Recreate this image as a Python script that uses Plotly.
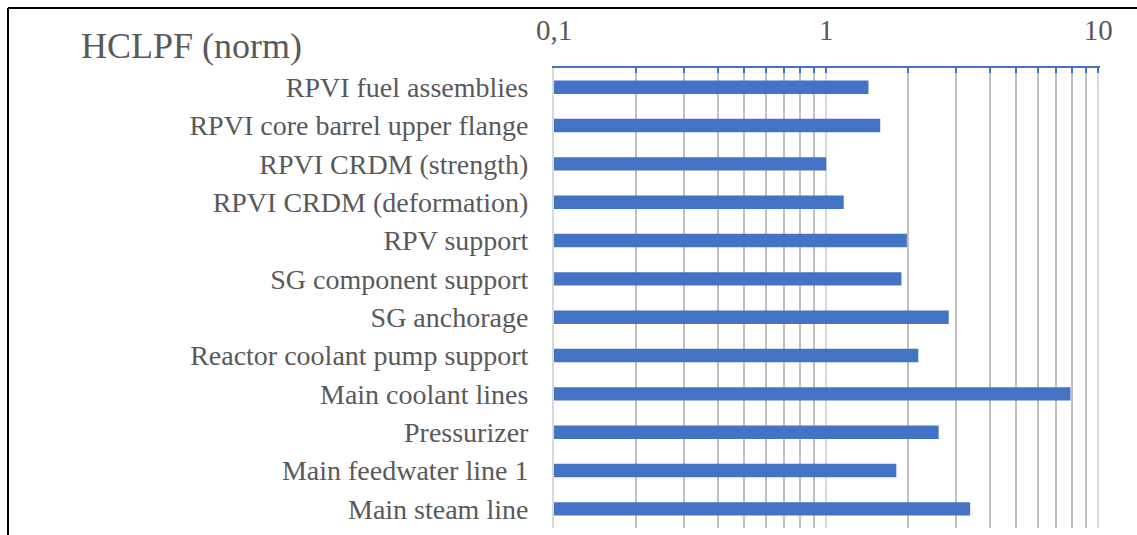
import plotly.graph_objects as go

# ---- data ----
categories = [
    "RPVI fuel assemblies",
    "RPVI core barrel upper flange",
    "RPVI CRDM (strength)",
    "RPVI CRDM (deformation)",
    "RPV support",
    "SG component support",
    "SG anchorage",
    "Reactor coolant pump support",
    "Main coolant lines",
    "Pressurizer",
    "Main feedwater line 1",
    "Main steam line",
]
hclpf_values = [1.43, 1.58, 1.00, 1.16, 1.98, 1.89, 2.82, 2.18, 7.9, 2.59, 1.81, 3.38]

major_ticks = [0.1, 1, 10]
major_labels = ["0,1", "1", "10"]
minor_ticks = [0.2, 0.3, 0.4, 0.5, 0.6, 0.7, 0.8, 0.9, 2, 3, 4, 5, 6, 7, 8, 9]
title_text = "HCLPF (norm)"

# ---- layout constants ----
W, H = 1137, 535
ML, MR, MT, MB = 554, 37, 68, 7
BLUE = "#4472C4"
TXT = "#595959"
FONT = "Liberation Serif, Times New Roman, serif"

pw = W - ML - MR
ph = H - MT - MB
def px_x(p):
    return (p - ML) / pw
def px_y(p):
    return (H - MB - p) / ph

fig = go.Figure(
    go.Bar(
        x=hclpf_values,
        y=categories,
        orientation="h",
        marker=dict(color=BLUE, line=dict(width=0)),
        hoverinfo="x+y",
    )
)

fig.update_layout(
    width=W,
    height=H,
    margin=dict(l=ML, r=MR, t=MT, b=MB),
    paper_bgcolor="white",
    plot_bgcolor="white",
    bargap=0.65,
    showlegend=False,
    font=dict(family=FONT, color=TXT, size=28),
)

fig.update_xaxes(
    type="log",
    range=[-1, 1.006],
    side="top",
    showline=True,
    linecolor=BLUE,
    linewidth=2,
    ticks="inside",
    ticklen=5,
    tickwidth=2,
    tickcolor=BLUE,
    tickmode="array",
    tickvals=major_ticks,
    ticktext=major_labels,
    tickfont=dict(family=FONT, size=29, color=TXT),
    ticklabelstandoff=14,
    showgrid=True,
    gridcolor="#D9D9D9",
    gridwidth=2,
    zeroline=False,
    minor=dict(
        tickmode="array",
        tickvals=minor_ticks,
        ticks="inside",
        ticklen=5,
        tickwidth=2,
        tickcolor=BLUE,
        showgrid=True,
        gridcolor="#BFBFBF",
        gridwidth=2,
    ),
)

fig.update_yaxes(
    type="category",
    categoryorder="array",
    categoryarray=categories,
    autorange="reversed",
    showline=True,
    linecolor="#D9D9D9",
    linewidth=2,
    ticks="",
    showgrid=False,
    tickfont=dict(family=FONT, size=28, color=TXT),
    ticklabelstandoff=18,
)

fig.add_annotation(
    text=title_text,
    xref="paper", yref="paper",
    x=px_x(79), y=px_y(46),
    xanchor="left", yanchor="middle",
    showarrow=False,
    font=dict(family=FONT, size=36, color=TXT),
)

# outer chart frame (top and left edges visible in the crop)
fig.add_shape(type="line", xref="paper", yref="paper",
              x0=px_x(8), x1=px_x(W + 10), y0=px_y(8), y1=px_y(8),
              line=dict(color="black", width=2))
fig.add_shape(type="line", xref="paper", yref="paper",
              x0=px_x(8), x1=px_x(8), y0=px_y(8), y1=px_y(H + 10),
              line=dict(color="black", width=2))

fig.write_html("out.html")
